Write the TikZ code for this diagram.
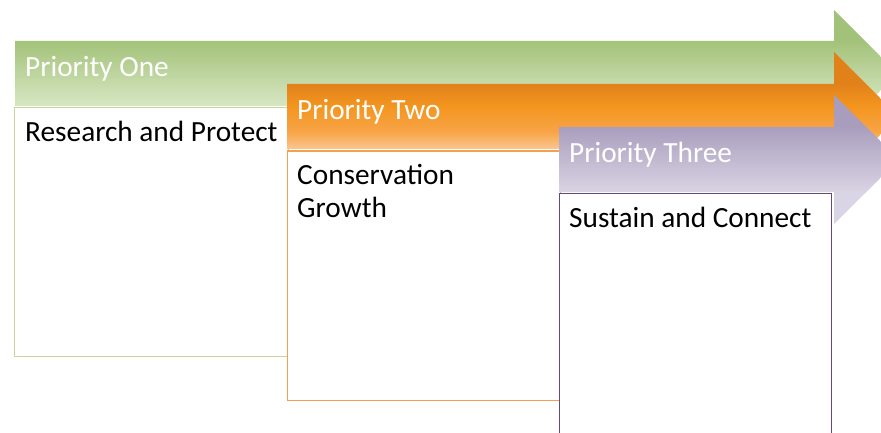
\documentclass[tikz,border=0pt]{standalone}
\usepackage{fontspec}
\setmainfont{Carlito}
\usetikzlibrary{positioning}

\definecolor{gtop}{HTML}{A3C279}
\definecolor{gbot}{HTML}{D8E7C4}
\definecolor{gline}{HTML}{C3D69B}
\definecolor{otop}{HTML}{E1811A}
\definecolor{omid}{HTML}{F3951F}
\definecolor{omid2}{HTML}{F8A548}
\definecolor{obot}{HTML}{FBC895}
\definecolor{oline}{HTML}{F2A24E}
\definecolor{ptop}{HTML}{A99DBD}
\definecolor{pbot}{HTML}{DAD5E4}
\definecolor{pline}{HTML}{5E4C7C}

% Vertical shadings: the band 37bp--63bp covers the arrow shaft
\pgfdeclareverticalshading{greenband}{100bp}{%
  color(0bp)=(gbot); color(37bp)=(gbot); color(63bp)=(gtop); color(100bp)=(gtop)}
\pgfdeclareverticalshading{orangeband}{100bp}{%
  color(0bp)=(obot); color(37bp)=(obot); color(44bp)=(omid2); color(54bp)=(omid);
  color(63bp)=(otop); color(100bp)=(otop)}
\pgfdeclareverticalshading{purpleband}{100bp}{%
  color(0bp)=(pbot); color(37bp)=(pbot); color(63bp)=(ptop); color(100bp)=(ptop)}

\tikzset{
  title/.style={anchor=base west, inner sep=0pt, text=white,
    font=\fontsize{29.3}{33}\selectfont},
  body/.style={anchor=base west, inner sep=0pt, text=black, align=left,
    font=\fontsize{29.3}{33}\selectfont},
  panel/.style={draw=#1, line width=1.3pt, fill=white, anchor=north west,
    inner sep=0pt},
}

\begin{document}
\begin{tikzpicture}[x=1pt,y=-1pt]
  \useasboundingbox (0,0) rectangle (881,433);

  % Priority one: arrow and panel
  \shade[shading=greenband]
    (15,41) -- (834,41) -- (834,10) -- (897.5,73.5) -- (834,137) -- (834,106) -- (15,106) -- cycle;
  \node[panel=gline, minimum width=274pt, minimum height=249pt] (p1) at (14,107) {};
  \node[title] (t1) at (25,76.5) {Priority One};
  \node[body] (b1) at (25,142) {Research and Protect};

  % Priority two: arrow and panel
  \shade[shading=orangeband]
    (287,84) -- (834,84) -- (834,52) -- (898.5,116.5) -- (834,181) -- (834,149) -- (287,149) -- cycle;
  \node[panel=oline, minimum width=273pt, minimum height=249pt] (p2) at (287,150.5) {};
  \node[title] (t2) at (297,119.5) {Priority Two};
  % base anchor of a two-line node sits on its last line
  \node[body] (b2) at (297,217) {Conservation\\Growth};

  % Priority three: arrow and panel
  \shade[shading=purpleband]
    (559,127) -- (834,127) -- (834,95) -- (899,159.5) -- (834,224) -- (834,192) -- (559,192) -- cycle;
  \node[panel=pline, minimum width=272pt, minimum height=260pt] (p3) at (559,193) {};
  \node[title] (t3) at (569,162.5) {Priority Three};
  \node[body] (b3) at (569,227.5) {Sustain and Connect};
\end{tikzpicture}
\end{document}
